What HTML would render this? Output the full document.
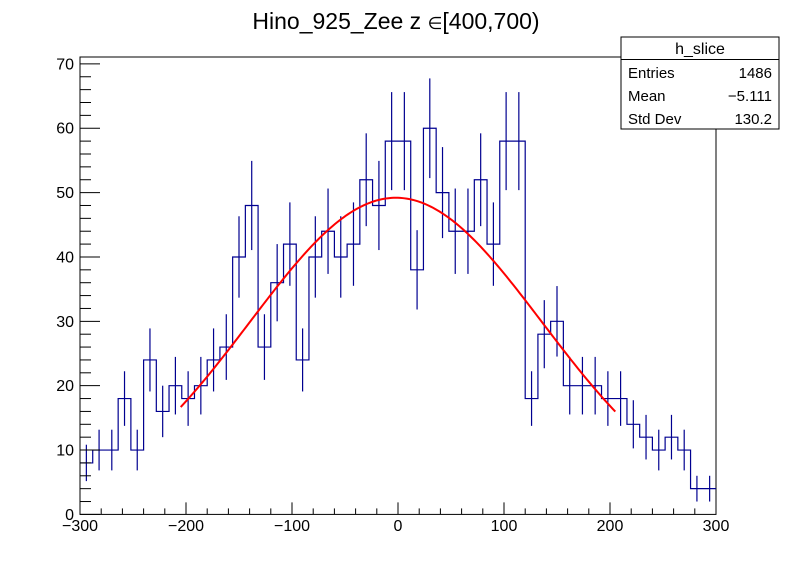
<!DOCTYPE html>
<html><head><meta charset="utf-8"><style>
html,body{margin:0;padding:0;background:#fff;}
svg text{font-family:"Liberation Sans",Arial,sans-serif;}
</style></head><body>
<svg id="chart" width="796" height="572" xmlns="http://www.w3.org/2000/svg">
<rect x="0" y="0" width="796" height="572" fill="#fff"/>
<text x="396" y="29" font-size="23" text-anchor="middle">Hino_925_Zee z  <tspan font-size="17">∈</tspan>[400,700)</text>
<g id="plot"></g>
<g>
<rect x="621" y="37" width="158" height="92" fill="#fff" stroke="#000" stroke-width="1"/>
<line x1="621" y1="59.5" x2="779" y2="59.5" stroke="#000"/>
<text x="700" y="54" font-size="16" text-anchor="middle">h_slice</text>
<text x="628" y="78" font-size="15">Entries</text>
<text x="772" y="78" font-size="15" text-anchor="end">1486</text>
<text x="628" y="101" font-size="15">Mean</text>
<text x="772" y="101" font-size="15" text-anchor="end">−5.111</text>
<text x="628" y="124" font-size="15">Std Dev</text>
<text x="772" y="124" font-size="15" text-anchor="end">130.2</text>
</g>
</svg>
<script>
const binCounts = [8,10,10,18,10,24,16,20,18,20,24,26,40,48,26,36,42,24,40,44,40,42,52,48,58,
58,38,60,50,44,44,52,42,58,58,18,28,30,20,20,20,18,18,14,12,10,12,10,4,4];
const xRange = [-300, 300];
const yRange = [0, 71.07];
const xTickLabels = [-300,-200,-100,0,100,200,300];
const yTickLabels = [0,10,20,30,40,50,60,70];
const fitParams = [49.2, -2, 138];
const fitRange = [-205, 205];

const L=80,R=716,T=57,B=514.4;
const sx=v=>L+(v-xRange[0])/(xRange[1]-xRange[0])*(R-L);
const sy=v=>B-(v-yRange[0])/(yRange[1]-yRange[0])*(B-T);
const NS='http://www.w3.org/2000/svg';
const plot=document.getElementById('plot');
function mk(tag,attrs,parent){const e=document.createElementNS(NS,tag);for(const k in attrs)e.setAttribute(k,attrs[k]);(parent||plot).appendChild(e);return e;}

const frame=mk('rect',{x:L,y:T,width:R-L,height:B-T,fill:'none',stroke:'#000','stroke-width':1});



const n=binCounts.length, bw=(xRange[1]-xRange[0])/n;
let d='';
binCounts.forEach((c,i)=>{const x0=sx(xRange[0]+i*bw),x1=sx(xRange[0]+(i+1)*bw),y=sy(c);
 d+=(i===0?'M'+x0+','+y:'L'+x0+','+y)+'L'+x1+','+y;});
const hist=mk('path',{d:d,fill:'none',stroke:'#000090','stroke-width':1.2});


binCounts.forEach((c,i)=>{const xc=sx(xRange[0]+(i+0.5)*bw),e=Math.sqrt(c);
 const l=mk('line',{x1:xc,x2:xc,y1:sy(c+e),y2:sy(Math.max(0,c-e)),stroke:'#000090','stroke-width':1.2});
 
 
});
let fd='';
for(let k=0;k<=200;k++){const x=fitRange[0]+(fitRange[1]-fitRange[0])*k/200;
 const y=fitParams[0]*Math.exp(-Math.pow(x-fitParams[1],2)/(2*fitParams[2]*fitParams[2]));
 fd+=(k?'L':'M')+sx(x).toFixed(2)+','+sy(y).toFixed(2);}
const fit=mk('path',{d:fd,fill:'none',stroke:'#ff0000','stroke-width':2});



for(let v=xRange[0];v<=xRange[1];v+=20){const major=(v%100===0);
 const t=mk('line',{x1:sx(v),x2:sx(v),y1:B,y2:B-(major?12:6),stroke:'#000'});
 
 }
xTickLabels.forEach(v=>{const t=mk('text',{x:sx(v),y:531,'font-size':16,'text-anchor':'middle'});
 t.textContent=v<0?'−'+Math.abs(v):String(v);
 
 });
for(let v=0;v<=70;v+=2){const major=(v%10===0);
 const t=mk('line',{x1:L,x2:L+(major?20:11),y1:sy(v),y2:sy(v),stroke:'#000'});
 
 }
yTickLabels.forEach(v=>{const t=mk('text',{x:74,y:sy(v)+5.5,'font-size':16,'text-anchor':'end'});
 t.textContent=String(v);
 
 });
</script>
</body></html>
